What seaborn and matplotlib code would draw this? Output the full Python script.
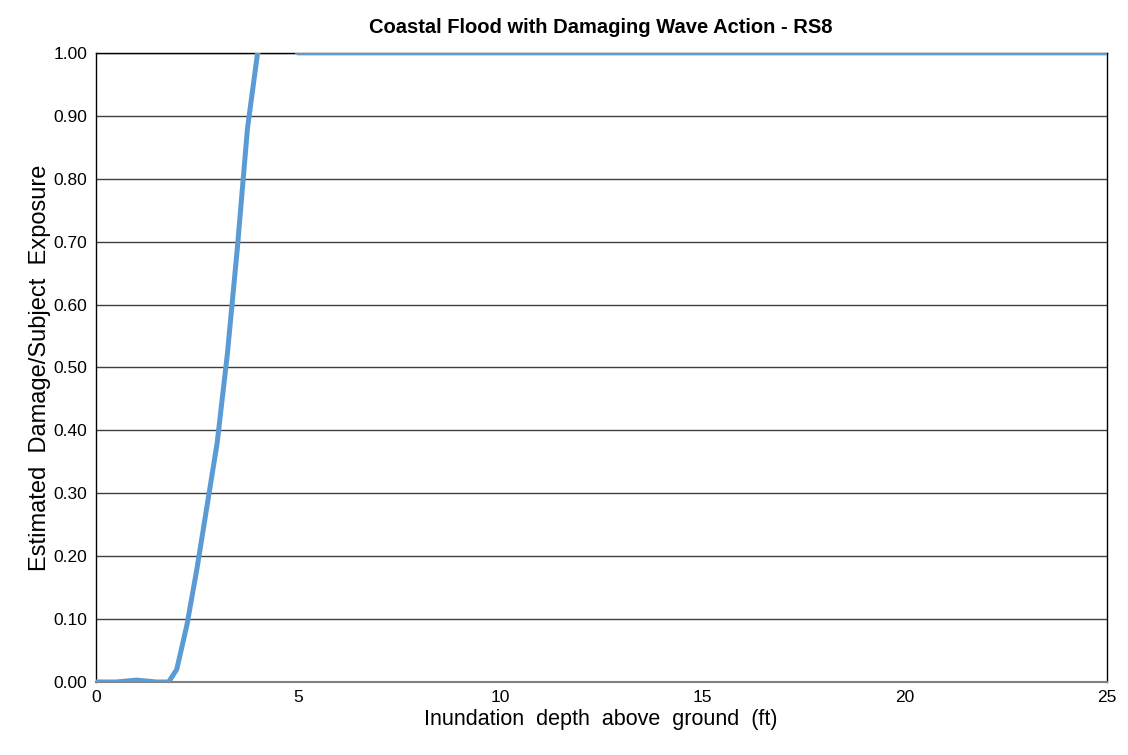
import numpy as np
import pandas as pd
import matplotlib
matplotlib.use('Agg')
import matplotlib.pyplot as plt
import seaborn as sns

# depth (ft) and damage ratio
depth = [0, 0.5, 1.0, 1.5, 1.8, 2.0, 2.25, 2.5, 2.75, 3.0, 3.25, 3.5, 3.75, 4.0, 4.5, 5, 10, 15, 20, 25]
damage = [0.0, 0.0, 0.003, 0.0, 0.0, 0.02, 0.09, 0.18, 0.28, 0.38, 0.52, 0.69, 0.88, 1.0, 1.03, 1.0, 1.0, 1.0, 1.0, 1.0]
x_ticks = [0, 5, 10, 15, 20, 25]
y_ticks = [0.0, 0.1, 0.2, 0.3, 0.4, 0.5, 0.6, 0.7, 0.8, 0.9, 1.0]

df = pd.DataFrame({'Depth': depth, 'Damage': damage})

sns.set_style('white')
plt.rcParams['font.family'] = ['Liberation Sans', 'DejaVu Sans']
plt.rcParams['text.color'] = 'black'
plt.rcParams['axes.labelcolor'] = 'black'

fig = plt.figure(figsize=(11.28, 7.55), dpi=100)
ax = fig.add_axes([0.085, 0.0967, 0.896, 0.8333])

# horizontal gridlines
for y in y_ticks:
    ax.axhline(y, color='#404040', lw=1.0, zorder=1)

sns.lineplot(data=df, x='Depth', y='Damage', ax=ax, color='#5B9BD5', lw=3.6, zorder=3)

ax.set_xlim(0, 25)
ax.set_ylim(0, 1.0)
ax.set_xticks(x_ticks)
ax.set_yticks(y_ticks)
ax.set_yticklabels(['%.2f' % v for v in y_ticks])
ax.tick_params(axis='both', length=0, labelsize=12.5, pad=6, colors='#000000')

for s in ['left', 'right', 'top']:
    ax.spines[s].set_color('#000000')
    ax.spines[s].set_linewidth(1.0)
ax.spines['bottom'].set_color('#808080')
ax.spines['bottom'].set_linewidth(1.5)

ax.set_xlabel('Inundation  depth  above  ground  (ft)', fontsize=15.5, labelpad=3)
ax.set_ylabel('Estimated  Damage/Subject  Exposure', fontsize=17, labelpad=2)
ax.set_title('Coastal Flood with Damaging Wave Action - RS8', fontsize=14.5, fontweight='bold', pad=14)

fig.savefig('out.png', dpi=100)
